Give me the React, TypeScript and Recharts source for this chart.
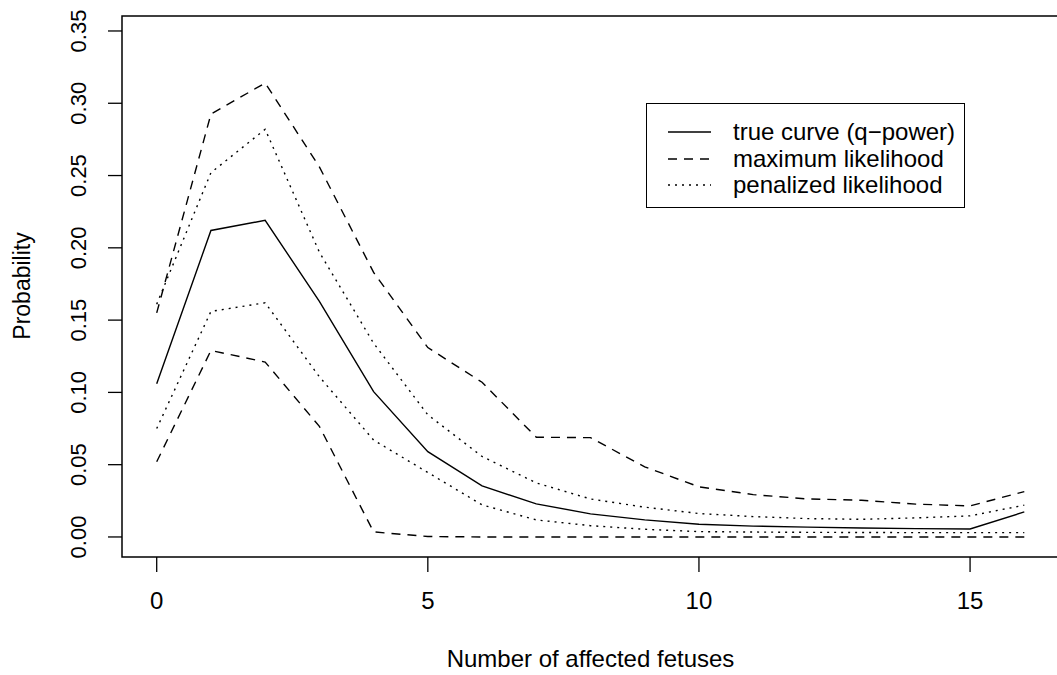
import React from "react";
import {
  LineChart,
  Line,
  XAxis,
  YAxis,
  Legend,
  ReferenceArea,
} from "recharts";

// values
const fetuses = [0, 1, 2, 3, 4, 5, 6, 7, 8, 9, 10, 11, 12, 13, 14, 15, 16];
const trueCurve = [
  0.106, 0.212, 0.219, 0.163, 0.1005, 0.059, 0.0353, 0.0229, 0.016, 0.0118,
  0.0088, 0.0075, 0.0068, 0.0062, 0.0058, 0.0055, 0.0173,
];
const mlUpper = [
  0.155, 0.2925, 0.314, 0.256, 0.183, 0.131, 0.107, 0.069, 0.0687, 0.0485,
  0.0347, 0.0293, 0.0263, 0.0254, 0.0227, 0.0215, 0.0314,
];
const mlLower = [
  0.052, 0.129, 0.121, 0.0765, 0.0035, 0.0003, 0, 0, 0, 0, 0, 0, 0, 0, 0, 0, 0,
];
const plUpper = [
  0.161, 0.252, 0.282, 0.197, 0.134, 0.0845, 0.0557, 0.0374, 0.0263, 0.0206,
  0.0162, 0.0141, 0.0127, 0.0122, 0.0132, 0.0146, 0.022,
];
const plLower = [
  0.075, 0.156, 0.162, 0.1108, 0.067, 0.0446, 0.0222, 0.0118, 0.0078, 0.0053,
  0.0037, 0.0034, 0.0032, 0.0031, 0.003, 0.003, 0.003,
];

const xTicks = [0, 5, 10, 15];
const yTicks = [0, 0.05, 0.1, 0.15, 0.2, 0.25, 0.3, 0.35];
const legendItems = [
  { label: "true curve (q\u2212power)", dash: undefined },
  { label: "maximum likelihood", dash: "9 7" },
  { label: "penalized likelihood", dash: "2 5" },
];

const X_DOMAIN = [-0.64, 16.64];
const Y_DOMAIN = [-0.01386, 0.36036];
const FONT = '"Liberation Sans", Arial, Helvetica, sans-serif';
const DASH = "9 7";
const DOT = "2 5";
const LW = 1.4;

const data = fetuses.map((k, i) => ({
  k,
  truth: trueCurve[i],
  mlU: mlUpper[i],
  mlL: mlLower[i],
  plU: plUpper[i],
  plL: plLower[i],
}));

const XTick = ({ x, payload }: any) => (
  <text x={x} y={609} textAnchor="middle" fontSize={24} fontFamily={FONT} fill="#000">
    {payload.value}
  </text>
);

const YTick = ({ y, payload }: any) => (
  <text
    x={79}
    y={y}
    transform={`rotate(-90, 79, ${y})`}
    textAnchor="middle"
    dominantBaseline="central"
    fontSize={22}
    fontFamily={FONT}
    fill="#000"
  >
    {payload.value.toFixed(2)}
  </text>
);

const YTitle = () => (
  <text
    x={22}
    y={286}
    transform="rotate(-90, 22, 286)"
    textAnchor="middle"
    dominantBaseline="central"
    fontSize={23}
    fontFamily={FONT}
    fill="#000"
  >
    Probability
  </text>
);

const renderLegend = () => (
  <div
    style={{
      width: 319,
      height: 105,
      border: "1px solid #000",
      boxSizing: "border-box",
      background: "#fff",
      position: "relative",
      fontFamily: FONT,
      fontSize: 24,
    }}
  >
    {legendItems.map((it, i) => (
      <div
        key={it.label}
        style={{
          position: "absolute",
          left: 0,
          top: 28 + i * 26.5 - 14,
          height: 28,
          display: "flex",
          alignItems: "center",
          whiteSpace: "nowrap",
        }}
      >
        <svg width={86} height={28}>
          <line
            x1={21}
            x2={64}
            y1={14}
            y2={14}
            stroke="#000"
            strokeWidth={LW}
            strokeDasharray={it.dash}
          />
        </svg>
        <span>{it.label}</span>
      </div>
    ))}
  </div>
);

export default function App() {
  return (
    <div
      style={{
        position: "fixed",
        left: 0,
        top: 0,
        width: 1057,
        height: 675,
        overflow: "hidden",
        background: "#fff",
      }}
    >
      <LineChart
        width={1062}
        height={675}
        data={data}
        margin={{ top: 16, right: 3, bottom: 0, left: 0 }}
      >
        <XAxis
          dataKey="k"
          type="number"
          domain={X_DOMAIN}
          allowDataOverflow
          ticks={xTicks}
          interval={0}
          height={118}
          axisLine={false}
          tickSize={15}
          tickLine={{ stroke: "#000", strokeWidth: 1.3 }}
          tick={<XTick />}
          label={{
            value: "Number of affected fetuses",
            position: "insideBottom",
            offset: 8,
            fontSize: 24,
            fontFamily: FONT,
            fill: "#000",
          }}
        />
        <YAxis
          type="number"
          domain={Y_DOMAIN}
          allowDataOverflow
          ticks={yTicks}
          interval={0}
          width={122}
          axisLine={false}
          tickSize={14}
          tickLine={{ stroke: "#000", strokeWidth: 1.3 }}
          tick={<YTick />}
          label={<YTitle />}
        />
        <ReferenceArea
          x1={X_DOMAIN[0]}
          x2={X_DOMAIN[1]}
          y1={Y_DOMAIN[0]}
          y2={Y_DOMAIN[1]}
          fill="none"
          fillOpacity={0}
          stroke="#000"
          strokeWidth={1.5}
          ifOverflow="visible"
        />
        <Line type="linear" dataKey="truth" stroke="#000" strokeWidth={LW} dot={false} isAnimationActive={false} />
        <Line type="linear" dataKey="mlU" stroke="#000" strokeWidth={LW} strokeDasharray={DASH} dot={false} isAnimationActive={false} />
        <Line type="linear" dataKey="mlL" stroke="#000" strokeWidth={LW} strokeDasharray={DASH} dot={false} isAnimationActive={false} />
        <Line type="linear" dataKey="plU" stroke="#000" strokeWidth={LW} strokeDasharray={DOT} dot={false} isAnimationActive={false} />
        <Line type="linear" dataKey="plL" stroke="#000" strokeWidth={LW} strokeDasharray={DOT} dot={false} isAnimationActive={false} />
        <Legend
          layout="vertical"
          align="center"
          verticalAlign="middle"
          content={renderLegend}
          wrapperStyle={{ position: "absolute", left: 646, top: 103, width: 319, height: 105 }}
        />
      </LineChart>
    </div>
  );
}
